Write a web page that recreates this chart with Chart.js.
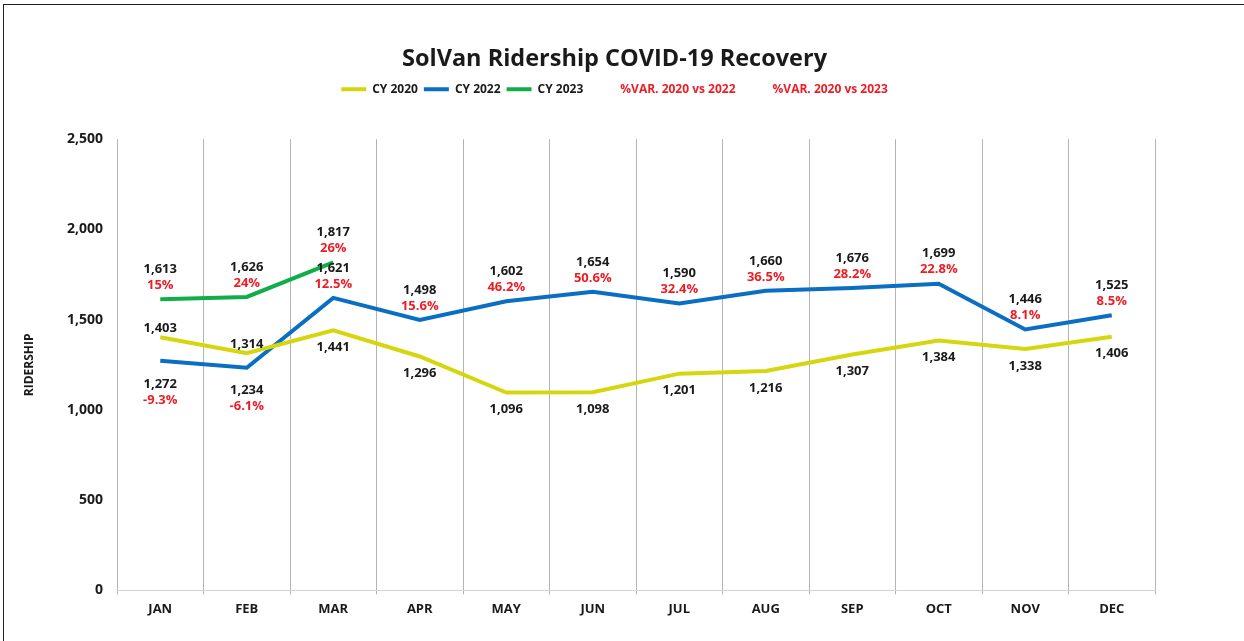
<!DOCTYPE html>
<html>
<head>
    <script src="https://cdn.jsdelivr.net/npm/chart.js"></script>
    <style>
        body { margin: 0; background: #fff; }
        #wrap { position: relative; width: 1244px; height: 641px; }
        #frame { position: absolute; left: 3px; top: 4px; right: 0; bottom: 0;
                 border-left: 1px solid #222; border-top: 1px solid #222; }
        #ridershipChart { position: absolute; left: 0; top: 0; }
    </style>
    <script>
        // monthly ridership
        const months = ['JAN','FEB','MAR','APR','MAY','JUN','JUL','AUG','SEP','OCT','NOV','DEC'];
        const cy2020 = [1403, 1314, 1441, 1296, 1096, 1098, 1201, 1216, 1307, 1384, 1338, 1406];
        const cy2022 = [1272, 1234, 1621, 1498, 1602, 1654, 1590, 1660, 1676, 1699, 1446, 1525];
        const cy2023 = [1613, 1626, 1817, null, null, null, null, null, null, null, null, null];
        // % variance vs 2020
        const var2022 = [-9.3, -6.1, 12.5, 15.6, 46.2, 50.6, 32.4, 36.5, 28.2, 22.8, 8.1, 8.5];
        const var2023 = [15, 24, 26];
        const yTicks = [0, 500, 1000, 1500, 2000, 2500];

        // where the labels sit relative to the line
        const place2020 = ['above','above','below','below','below','below','below','below','below','below','below','below'];
        const place2022 = ['below','below','above','above','above','above','above','above','above','above','above','above'];
        const place2023 = ['above','above','above'];

        const RED = '#ee1c25';
        const FONT = '"Open Sans", "DejaVu Sans", sans-serif';

        const labelPlugin = {
            id: 'pointLabels',
            afterDatasetsDraw(chart) {
                const ctx = chart.ctx;
                ctx.save();
                ctx.font = 'bold 13px ' + FONT;
                ctx.textAlign = 'center';
                ctx.textBaseline = 'middle';
                chart.data.datasets.forEach((ds, di) => {
                    if (!ds.place) return;
                    const meta = chart.getDatasetMeta(di);
                    meta.data.forEach((pt, i) => {
                        const v = ds.data[i];
                        if (v == null) return;
                        const pct = ds.pct ? ds.pct[i] : undefined;
                        const below = ds.place[i] === 'below';
                        let vy, py;
                        if (pct === undefined) {
                            vy = below ? pt.y + 17 : pt.y - 9;
                        } else if (below) {
                            vy = pt.y + 23; py = pt.y + 39;
                        } else {
                            vy = pt.y - 30; py = pt.y - 14;
                        }
                        ctx.fillStyle = '#1a1a1a';
                        ctx.fillText(v.toLocaleString('en-US'), pt.x, vy);
                        if (pct !== undefined) {
                            ctx.fillStyle = RED;
                            ctx.fillText(pct + '%', pt.x, py);
                        }
                    });
                });
                ctx.restore();
            }
        };

        // extra room under the legend, and title/legend nudged right like the original
        const headerTweak = {
            id: 'headerTweak',
            beforeInit(chart) {
                const fit = chart.legend.fit;
                chart.legend.fit = function () {
                    fit.call(this);
                    this.height += 34;
                };
            },
            afterLayout(chart) {
                [chart.titleBlock, chart.legend].forEach(b => {
                    b.left += 28;
                    b.right += 28;
                });
            }
        };

        window.onload = function () {
            const data = {
                labels: months,
                datasets: [
                    { label: 'CY 2020', data: cy2020, borderColor: '#d6d60f', place: place2020 },
                    { label: 'CY 2022', data: cy2022, borderColor: '#0a6fc2', pct: var2022, place: place2022 },
                    { label: 'CY 2023', data: cy2023, borderColor: '#12ad4b', pct: var2023, place: place2023 }
                ].map(d => Object.assign({
                    borderWidth: 4, pointRadius: 0, tension: 0, fill: false,
                    backgroundColor: d.borderColor, spanGaps: false
                }, d))
            };

            const config = {
                type: 'line',
                data: data,
                plugins: [labelPlugin, headerTweak],
                options: {
                    responsive: false,
                    animation: false,
                    layout: { padding: { left: 18, right: 89, top: 0, bottom: 17 } },
                    plugins: {
                        tooltip: { enabled: false },
                        title: {
                            display: true,
                            text: 'SolVan Ridership COVID-19 Recovery',
                            color: '#1a1a1a',
                            font: { family: FONT, size: 23.5, weight: 'bold' },
                            padding: { top: 45, bottom: 4 }
                        },
                        legend: {
                            display: true,
                            onClick: null,
                            labels: {
                                usePointStyle: true,
                                pointStyleWidth: 25,
                                padding: 6,
                                font: { family: FONT, size: 12, weight: 'bold' },
                                generateLabels() {
                                    const items = data.datasets.map(d => ({
                                        text: d.label, pointStyle: 'line', strokeStyle: d.borderColor,
                                        fillStyle: d.borderColor, lineWidth: 4, fontColor: '#1a1a1a', hidden: false
                                    }));
                                    ['%VAR. 2020 vs 2022', '%VAR. 2020 vs 2023'].forEach(t => items.push({
                                        text: t, pointStyle: 'line', strokeStyle: 'rgba(0,0,0,0)',
                                        fillStyle: 'rgba(0,0,0,0)', lineWidth: 0, fontColor: RED, hidden: false
                                    }));
                                    return items;
                                }
                            }
                        }
                    },
                    scales: {
                        x: {
                            offset: true,
                            grid: {
                                offset: true,
                                display: true,
                                drawOnChartArea: true,
                                tickLength: 4,
                                color: ctx => ctx.index === months.length ? '#cfcfcf' : '#b4b4b4',
                                lineWidth: ctx => ctx.index === months.length ? 2.5 : 1
                            },
                            border: { display: true, color: '#d4d4d4' },
                            ticks: {
                                color: '#1a1a1a', padding: 7,
                                font: { family: FONT, size: 13, weight: 'bold' }
                            }
                        },
                        y: {
                            min: 0, max: 2500,
                            afterFit(scale) { scale.width = 99; },
                            afterBuildTicks(scale) { scale.ticks = yTicks.map(v => ({ value: v })); },
                            grid: { display: false, drawTicks: false },
                            border: { display: false },
                            ticks: {
                                color: '#1a1a1a', padding: 14,
                                font: { family: FONT, size: 14, weight: 'bold' },
                                callback: v => v.toLocaleString('en-US')
                            },
                            title: {
                                display: true, text: 'RIDERSHIP', color: '#1a1a1a',
                                font: { family: FONT, size: 12, weight: 'bold' }
                            }
                        }
                    }
                }
            };

            new Chart(document.getElementById('ridershipChart'), config);
        };
    </script>
</head>
<body>
    <div id="wrap">
        <div id="frame"></div>
        <canvas id="ridershipChart" width="1244" height="641"></canvas>
    </div>
</body>
</html>
